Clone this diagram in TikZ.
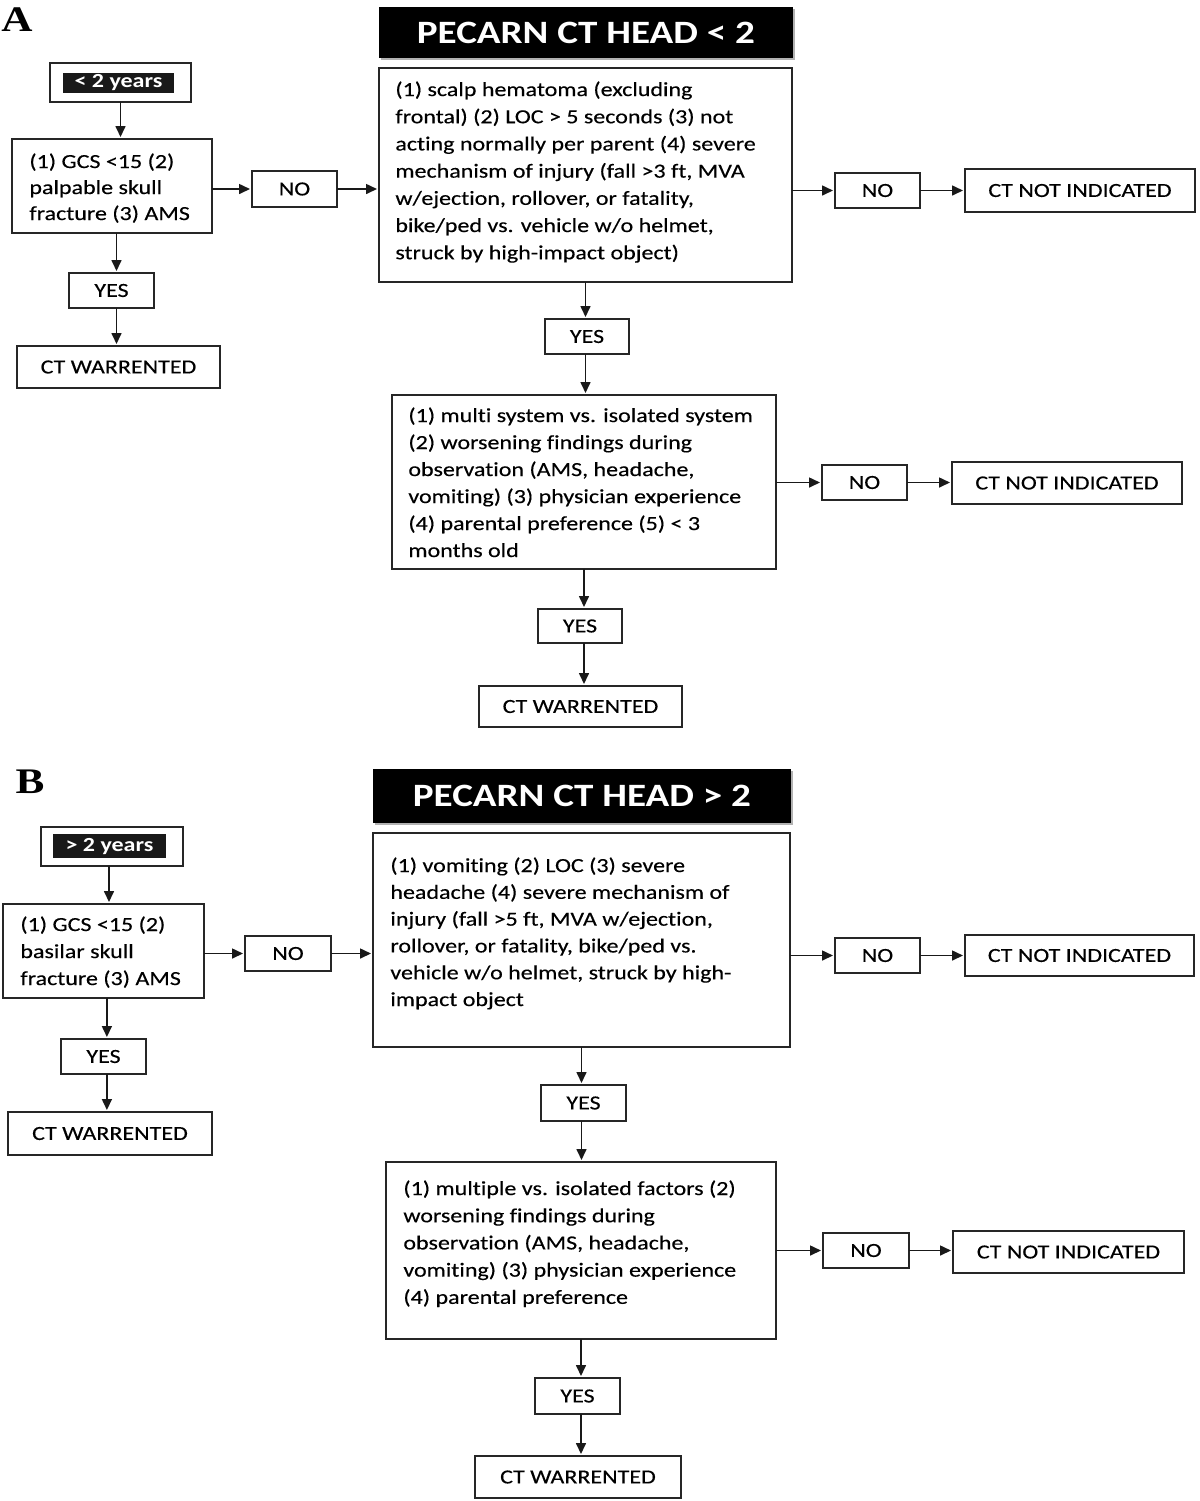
\documentclass[tikz,border=0pt]{standalone}
\usepackage{fontspec}
\setmainfont{Carlito}[FakeStretch=1.2,Ligatures=NoCommon,UprightFeatures={FakeBold=0.3}]
\newfontfamily\labfont{Liberation Serif}[FakeStretch=1.2]
\usetikzlibrary{arrows.meta,shadows}
% \bx[style]{name}{x1}{y1}{x2}{y2}{text}
\newcommand{\bx}[7][box]{%
  \node[#1,minimum width={(#5-#3)*0.5pt},minimum height={(#6-#4)*0.5pt}] (#2) at ({(#3+#5)/2},{(#4+#6)/2}) {#7};}
\begin{document}
\begin{tikzpicture}[x=0.5pt,y=-0.5pt,
  box/.style={draw=black!85,line width=0.9pt,inner sep=0pt,outer sep=0pt,fill=white,font=\fontsize{10}{12}\selectfont},
  txt/.style={inner sep=0pt,align=left,anchor=north west,font=\fontsize{10}{13.6}\selectfont},
  titlebox/.style={fill=black,inner sep=0pt,text=white,font=\fontsize{16.3}{18}\selectfont\bfseries,
     drop shadow={shadow xshift=1.2pt,shadow yshift=-1.2pt,fill=black!60,opacity=0.5}},
  agebox/.style={fill=black!90,inner sep=0pt,text=white,font=\fontsize{10}{12}\selectfont\bfseries},
  panel/.style={inner sep=0pt,font=\labfont\fontsize{18}{20}\selectfont\bfseries},
  arr/.style={-{Triangle[length=5.5pt,width=5pt]},line width=0.8pt,draw=black!90,shorten >=1pt}]
\useasboundingbox[fill=white] (0,0) rectangle (1200,1501);

% ================= Panel A =================
\node[panel] (labA) at (17,20) {A};
\bx[titlebox]{titA}{379}{7}{793}{58}{PECARN CT HEAD < 2}
\bx{ageAo}{50}{63}{191}{102}{}
\bx[agebox]{ageAi}{63}{73}{174}{93}{< 2 years}
\bx{gcsA}{12}{139}{212}{233}{}
\node[txt,font=\fontsize{10}{13}\selectfont] (gcsAt) at (29,153) {(1) GCS <15 (2)\\palpable skull\\fracture (3) AMS};
\bx{noA1}{252}{171}{337}{207}{NO}
\bx{mainA}{379}{68}{792}{282}{}
\node[txt] (mainAt) at (395,81) {(1) scalp hematoma (excluding\\frontal) (2) LOC > 5 seconds (3) not\\acting normally per parent (4) severe\\mechanism of injury (fall >3 ft, MVA\\w/ejection, rollover, or fatality,\\bike/ped vs. vehicle w/o helmet,\\struck by high-impact object)};
\bx{noA2}{835}{173}{920}{208}{NO}
\bx{ctniA1}{965}{169}{1195}{212}{CT NOT INDICATED}
\bx{yesA1}{69}{273}{154}{308}{YES}
\bx{ctwA1}{17}{346}{220}{388}{CT WARRENTED}
\bx{yesA2}{545}{319}{629}{354}{YES}
\bx{secA}{392}{395}{776}{569}{}
\node[txt,font=\fontsize{10}{13.5}\selectfont] (secAt) at (408,407) {(1) multi system vs. isolated system\\(2) worsening findings during\\observation (AMS, headache,\\vomiting) (3) physician experience\\(4) parental preference (5) < 3\\months old};
\bx{noA3}{822}{465}{907}{500}{NO}
\bx{ctniA2}{952}{462}{1182}{504}{CT NOT INDICATED}
\bx{yesA3}{538}{609}{622}{643}{YES}
\bx{ctwA2}{479}{686}{682}{727}{CT WARRENTED}

\draw[arr] (ageAo.south) -- (gcsA.north -| ageAo.south);
\draw[arr] (gcsA.east |- noA1) -- (noA1.west);
\draw[arr] (noA1.east) -- (noA1 -| mainA.west);
\draw[arr] (mainA.east |- noA2) -- (noA2.west);
\draw[arr] (noA2.east) -- (noA2 -| ctniA1.west);
\draw[arr] ([xshift=2.5pt]yesA1.north |- gcsA.south) -- ([xshift=2.5pt]yesA1.north);
\draw[arr] ([xshift=2.5pt]yesA1.south) -- ([xshift=2.5pt]yesA1.south |- ctwA1.north);
\draw[arr] (mainA.south) -- (yesA2.north -| mainA.south);
\draw[arr] (yesA2.south -| mainA.south) -- (secA.north -| mainA.south);
\draw[arr] (secA.east |- noA3) -- (noA3.west);
\draw[arr] (noA3.east) -- (noA3 -| ctniA2.west);
\draw[arr] (secA.south) -- (yesA3.north -| secA.south);
\draw[arr] (yesA3.south -| secA.south) -- (ctwA2.north -| secA.south);

% ================= Panel B =================
\node[panel] (labB) at (30,782) {B};
\bx[titlebox]{titB}{373}{769}{791}{823}{PECARN CT HEAD > 2}
\bx{ageBo}{41}{827}{183}{866}{}
\bx[agebox]{ageBi}{53}{834}{166}{858}{> 2 years}
\bx{gcsB}{3}{904}{204}{998}{}
\node[txt,font=\fontsize{10}{13.5}\selectfont] (gcsBt) at (20,916) {(1) GCS <15 (2)\\basilar skull\\fracture (3) AMS};
\bx{noB1}{245}{936}{331}{971}{NO}
\bx{mainB}{373}{833}{790}{1047}{}
\node[txt,font=\fontsize{10}{13.4}\selectfont] (mainBt) at (390,857) {(1) vomiting (2) LOC (3) severe\\headache (4) severe mechanism of\\injury (fall >5 ft, MVA w/ejection,\\rollover, or fatality, bike/ped vs.\\vehicle w/o helmet, struck by high-\\impact object};
\bx{noB2}{835}{938}{920}{973}{NO}
\bx{ctniB1}{965}{935}{1194}{976}{CT NOT INDICATED}
\bx{yesB1}{61}{1039}{146}{1074}{YES}
\bx{ctwB1}{8}{1112}{212}{1155}{CT WARRENTED}
\bx{yesB2}{541}{1085}{626}{1121}{YES}
\bx{secB}{386}{1162}{776}{1339}{}
\node[txt,font=\fontsize{10}{13.6}\selectfont] (secBt) at (403,1180) {(1) multiple vs. isolated factors (2)\\worsening findings during\\observation (AMS, headache,\\vomiting) (3) physician experience\\(4) parental preference};
\bx{noB3}{823}{1233}{909}{1268}{NO}
\bx{ctniB2}{953}{1231}{1184}{1273}{CT NOT INDICATED}
\bx{yesB3}{535}{1378}{620}{1414}{YES}
\bx{ctwB2}{475}{1456}{681}{1498}{CT WARRENTED}

\draw[arr] ([xshift=-1.5pt]ageBo.south) -- ([xshift=-1.5pt]ageBo.south |- gcsB.north);
\draw[arr] (gcsB.east |- noB1) -- (noB1.west);
\draw[arr] (noB1.east) -- (noB1 -| mainB.west);
\draw[arr] (mainB.east |- noB2) -- (noB2.west);
\draw[arr] (noB2.east) -- (noB2 -| ctniB1.west);
\draw[arr] ([xshift=1.7pt]yesB1.north |- gcsB.south) -- ([xshift=1.7pt]yesB1.north);
\draw[arr] ([xshift=1.7pt]yesB1.south) -- ([xshift=1.7pt]yesB1.south |- ctwB1.north);
\draw[arr] (mainB.south) -- (yesB2.north -| mainB.south);
\draw[arr] (yesB2.south -| mainB.south) -- (secB.north -| mainB.south);
\draw[arr] (secB.east |- noB3) -- (noB3.west);
\draw[arr] (noB3.east) -- (noB3 -| ctniB2.west);
\draw[arr] (secB.south) -- (yesB3.north -| secB.south);
\draw[arr] (yesB3.south -| secB.south) -- (ctwB2.north -| secB.south);
\end{tikzpicture}
\end{document}
